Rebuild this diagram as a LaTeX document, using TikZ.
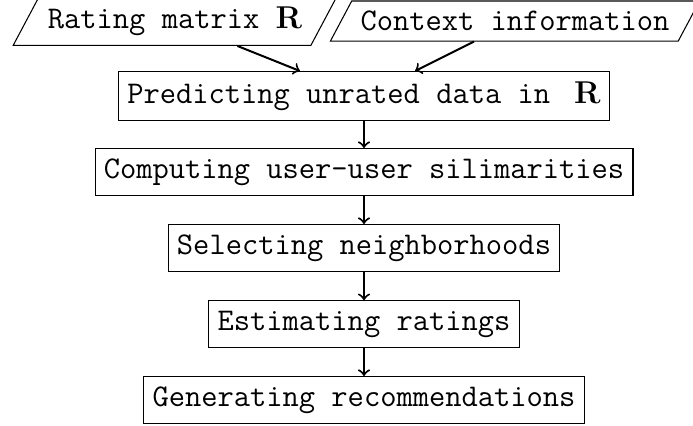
\documentclass[tikz,border=0pt]{standalone}
\usetikzlibrary{shapes.geometric,calc}
\begin{document}
\begin{tikzpicture}[x=0.38pt,y=-0.38pt,
  base/.style={font=\large\ttfamily, inner xsep=3.33pt, inner ysep=3.8pt, draw, line width=0.4pt},
  procbox/.style={base, rectangle},
  databox/.style={base, trapezium, trapezium left angle=62, trapezium right angle=118},
  flow/.style={->, line width=0.76pt}]
\useasboundingbox (0,0) rectangle (693,425);
\node[databox] (rating) at (175,21) {Rating matrix $\mathbf{R}$};
\node[databox] (context) at (515,21) {Context information};
\node[procbox] (pred) at (364,96) {Predicting unrated data in\hspace{3pt} $\mathbf{R}$};
\node[procbox] (comp) at (364,172) {Computing user-user silimarities};
\node[procbox] (sel) at (364,248) {Selecting neighborhoods};
\node[procbox] (est) at (364,324) {Estimating ratings};
\node[procbox] (gen) at (364,400) {Generating recommendations};
\coordinate (pl) at ($(pred.north)+(-64,0)$);
\coordinate (pr) at ($(pred.north)+(51,0)$);
\draw[flow] (rating) -- (pl);
\draw[flow] (context) -- (pr);
\draw[flow] (pred) -- (comp);
\draw[flow] (comp) -- (sel);
\draw[flow] (sel) -- (est);
\draw[flow] (est) -- (gen);
\end{tikzpicture}
\end{document}
